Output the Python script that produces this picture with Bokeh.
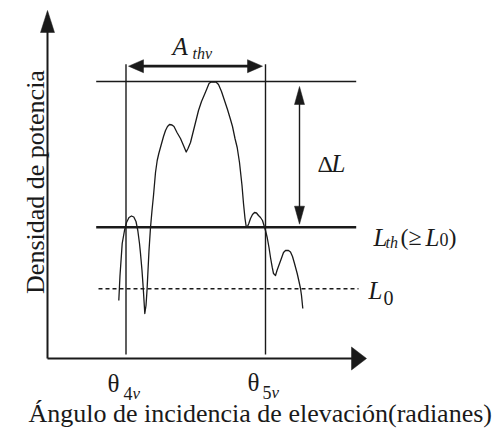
import math
from bokeh.plotting import figure
from bokeh.models import Range1d
from bokeh.core.properties import value
from bokeh.embed import file_html
from bokeh.resources import INLINE

# ---- schematic values (data units, origin at the axes' corner) ----
axis_x_end = 319          # tip of the horizontal axis
axis_y_end = 348          # tip of the vertical axis
theta_positions = [78.5, 218]          # theta_4v, theta_5v
theta_labels = ["4", "5"]
level_peak = 277          # upper reference line (peak level)
level_Lth = 131.3         # threshold level L_th
level_L0 = 69.7           # noise level L_0
A_arrow_level = 292.3     # height of the A_thv width arrow
dL_arrow_x = 252          # position of the Delta L arrow

# power density trace (angle, density)
curve_x = [71.3, 72.5, 74.7, 77, 79, 81.5, 84, 86.3, 88.5, 90.3,
           92, 93, 94.5, 95.7, 97.3, 98.5, 99.5, 100.5, 101.5, 103,
           104.5, 106, 108, 109.7, 111.3, 113.5, 116, 118, 120, 122,
           124.5, 126.5, 129.5, 133, 136, 138.7, 140.5, 143, 145, 148,
           151, 154, 157, 159.5, 161.5, 163.5, 166, 168.5, 171, 174,
           177, 180, 183, 185, 187.5, 189.7, 192, 194.5, 196, 197.5,
           198.7, 200, 201.3, 203, 205, 207, 209, 211, 213, 215,
           216.5, 218, 219.7, 221.5, 223, 224.7, 226, 228, 229.5, 231.3,
           233.5, 236, 238, 241, 243, 245, 247, 249.7, 251.5, 253,
           254, 255.3]
curve_y = [58, 83, 115, 128, 136, 141, 142.5, 141.5, 137, 128,
           115, 105, 88, 71, 45, 53, 68, 88, 108, 131,
           148, 163, 186, 198, 205, 213, 222, 228, 232, 234,
           233.5, 232, 226, 220, 213, 206.5, 210, 216, 224, 236,
           248, 257, 264, 270, 275, 276.5, 276.5, 276.5, 274, 267,
           258, 249, 239, 232, 220, 211, 196, 173, 155, 140,
           132, 132, 135, 140, 144, 146, 145.5, 143, 141, 138,
           133, 128, 121, 111, 101, 91.3, 85, 83, 88, 93,
           99, 106, 108, 108, 106.5, 102, 95, 85, 77, 70,
           63, 50]

x_title = "Ángulo de incidencia de elevación(radianes)"
y_title = "Densidad de potencia"

SERIF = value("Liberation Serif")
INK = "#1a1a1a"

p = figure(width=502, height=430, output_backend="svg", toolbar_location=None,
           x_axis_type=None, y_axis_type=None,
           x_range=Range1d(-47, 455), y_range=Range1d(-72, 358),
           min_border=0)
p.grid.visible = False
p.outline_line_color = None
p.background_fill_color = "white"
p.border_fill_color = "white"


def head(tx, ty, dx, dy, length, half):
    bx, by = tx - dx * length, ty - dy * length
    nx, ny = -dy, dx
    return [tx, bx + nx * half, bx - nx * half], [ty, by + ny * half, by - ny * half]


heads_x, heads_y = [], []

# axes
p.line([0, axis_x_end - 10], [0, 0], line_color=INK, line_width=2)
p.line([0, 0], [0, axis_y_end - 15], line_color=INK, line_width=2)
hx, hy = head(axis_x_end, 0, 1, 0, 15, 11.5); heads_x.append(hx); heads_y.append(hy)
hx, hy = head(0, axis_y_end, 0, 1, 22, 7); heads_x.append(hx); heads_y.append(hy)

# theta verticals
for tx in theta_positions:
    p.line([tx, tx], [4, A_arrow_level + 2], line_color=INK, line_width=1.4)

# level lines
p.line([48.7, 308.7], [level_peak, level_peak], line_color=INK, line_width=1.4)
p.line([48.7, 308.7], [level_Lth, level_Lth], line_color=INK, line_width=2.6)
p.line([51, 311], [level_L0, level_L0], line_color=INK, line_width=1.6, line_dash="4 3")

# A_thv width arrow
a0, a1 = theta_positions[0] + 2.5, theta_positions[1] - 3
p.line([a0 + 10, a1 - 10], [A_arrow_level, A_arrow_level], line_color=INK, line_width=2.8)
hx, hy = head(a0, A_arrow_level, -1, 0, 15, 6.5); heads_x.append(hx); heads_y.append(hy)
hx, hy = head(a1, A_arrow_level, 1, 0, 15, 6.5); heads_x.append(hx); heads_y.append(hy)

# Delta L arrow
d_top, d_bot = level_peak - 5, level_Lth + 3
p.line([dL_arrow_x, dL_arrow_x], [d_bot + 10, d_top - 10], line_color=INK, line_width=1.4)
hx, hy = head(dL_arrow_x, d_top, 0, 1, 18, 5); heads_x.append(hx); heads_y.append(hy)
hx, hy = head(dL_arrow_x, d_bot, 0, -1, 18, 5); heads_x.append(hx); heads_y.append(hy)

p.patches(heads_x, heads_y, fill_color=INK, line_color=INK, line_width=0.5)

# power density curve
p.line(curve_x, curve_y, line_color=INK, line_width=1.3, line_join="round")


def label(x, y, txt, size, italic=False, **kw):
    p.text(x=[x], y=[y], text=[txt], text_font=SERIF,
           text_font_size=f"{size}px", text_font_style="italic" if italic else "normal",
           text_color=INK, text_baseline=kw.pop("baseline", "alphabetic"),
           text_align=kw.pop("align", "left"), **kw)


# A_thv
label(125, 312.3, "A", 25, italic=True)
label(145, 305, "thv", 16, italic=True)
# Delta L
label(270, 195, "Δ", 24)
label(284, 195, "L", 25, italic=True)
# L_th (>= L_0)
label(326, 121.5, "L", 25, italic=True)
label(338, 116, "th", 16, italic=True)
label(353, 121.5, "(≥", 24)
label(378, 121.5, "L", 25, italic=True)
label(392, 119, "0", 18)
label(401, 121.5, ")", 24)
# L_0
label(321, 68, "L", 25, italic=True)
label(336, 61, "0", 20)
# theta labels
label(60, -25, "θ", 25)
label(76, -35, theta_labels[0], 18)
label(85, -35, "v", 17, italic=True)
label(200, -24, "θ", 25)
label(215, -34, theta_labels[1], 18)
label(224, -34, "v", 17, italic=True)

# axis titles
label(-19, -55, x_title, 26)
label(-12, 176.5, y_title, 26, align="center", angle=math.pi / 2)

open("out.html", "w").write(file_html(p, INLINE))
